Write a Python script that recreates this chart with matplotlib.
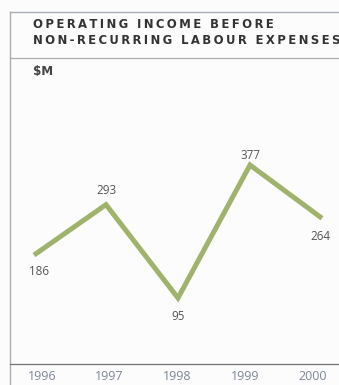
import numpy as np
import matplotlib.pyplot as plt
from matplotlib.lines import Line2D

years = ["1996", "1997", "1998", "1999", "2000"]
income = [186, 293, 95, 377, 264]
title_lines = ["OPERATING INCOME BEFORE", "NON-RECURRING LABOUR EXPENSES"]
unit = "$M"

LINE_GREEN = "#9fb36c"
FRAME = "#a9acb0"
W, H = 339, 385


def spaced(s, gap="\u2009"):
    return gap.join(s)


def fx(px):
    return px / W


def fy(py):
    return 1 - py / H


fig = plt.figure(figsize=(W / 100, H / 100), dpi=100)
fig.patch.set_facecolor("#fcfcfc")

# plot area between the title rule and the bottom rule
ax = fig.add_axes([fx(10), fy(364), fx(329), 306 / H])
ax.set_facecolor("none")
x = np.arange(len(years))
ax.plot(x, income, color=LINE_GREEN, lw=3.6, solid_joinstyle="miter",
        solid_capstyle="butt")
ax.set_xlim(-0.333, 4.236)
ax.set_ylim(-45, 604)
for s in ax.spines.values():
    s.set_visible(False)
ax.set_yticks([])
ax.set_xticks(0.11 + 0.94 * x)
ax.set_xticklabels(years, fontsize=9.0, color="#7d8796", family="Open Sans")
ax.tick_params(axis="x", length=0, pad=4)

offsets = [(5, -16), (0, 14), (0, -19), (0, 10), (-2, -18)]
for xi, v, off in zip(x, income, offsets):
    ax.annotate(str(v), (xi, v), xytext=off, textcoords="offset pixels",
                ha="center", va="center", fontsize=8.4, color="#555555",
                family="Open Sans")

# frame rules
for (x0, y0, x1, y1, c, lw) in [
    (10, 12, 339, 12, FRAME, 1.0),
    (10, 58, 339, 58, FRAME, 0.9),
    (10, 12, 10, 385, FRAME, 1.0),
    (10, 364, 339, 364, "#6f7378", 0.9),
]:
    fig.add_artist(Line2D([fx(x0), fx(x1)], [fy(y0), fy(y1)], color=c, lw=lw))

for line, py in zip(title_lines, [25, 41]):
    fig.text(fx(33), fy(py), spaced(line), fontsize=8.4, fontweight="bold",
             color="#333333", va="center", ha="left", family="DejaVu Sans")
fig.text(fx(33), fy(72), unit, fontsize=8.6, fontweight="bold",
         color="#444444", va="center", ha="left", family="DejaVu Sans")

plt.savefig("out.png", dpi=100)
plt.close()
